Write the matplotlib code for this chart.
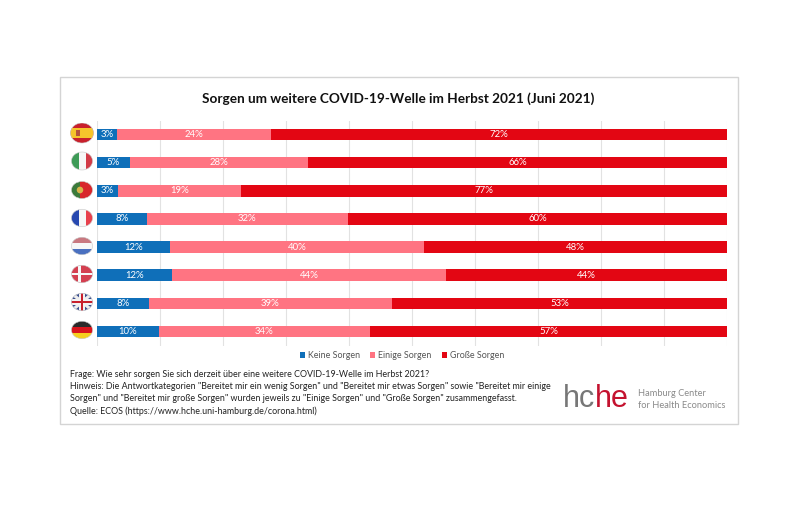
import matplotlib
matplotlib.use("Agg")
import matplotlib.pyplot as plt
from matplotlib.patches import Rectangle, Ellipse, Polygon

plt.rcParams['font.family'] = ['Lato', 'DejaVu Sans']

W, H = 800, 507
countries = ["ES", "IT", "PT", "FR", "NL", "DK", "GB", "DE"]
keine = [3.2, 5.2, 3.3, 7.9, 11.6, 11.9, 8.2, 9.8]
einige = [24.4, 28.3, 19.6, 31.9, 40.3, 43.5, 38.6, 33.5]
grosse = [72.4, 66.5, 77.1, 60.2, 48.1, 44.6, 53.2, 56.7]
keine_lbl = ["3%", "5%", "3%", "8%", "12%", "12%", "8%", "10%"]
einige_lbl = ["24%", "28%", "19%", "32%", "40%", "44%", "39%", "34%"]
grosse_lbl = ["72%", "66%", "77%", "60%", "48%", "44%", "53%", "57%"]
series_names = ["Keine Sorgen", "Einige Sorgen", "Große Sorgen"]
colors = ["#0F6FB9", "#FF7482", "#E30613"]
title = "Sorgen um weitere COVID-19-Welle im Herbst 2021 (Juni 2021)"
notes = [
    "Frage: Wie sehr sorgen Sie sich derzeit über eine weitere COVID-19-Welle im Herbst 2021?",
    "Hinweis: Die Antwortkategorien \"Bereitet mir ein wenig Sorgen\" und \"Bereitet mir etwas Sorgen\" sowie \"Bereitet mir einige",
    "Sorgen\" und \"Bereitet mir große Sorgen\" wurden jeweils zu \"Einige Sorgen\" und \"Große Sorgen\" zusammengefasst.",
    "Quelle: ECOS (https://www.hche.uni-hamburg.de/corona.html)",
]

fig = plt.figure(figsize=(W / 100, H / 100), dpi=100, facecolor="white")

# page overlay in pixel coordinates
bg = fig.add_axes([0, 0, 1, 1], zorder=0)
bg.set_xlim(0, W); bg.set_ylim(H, 0); bg.axis("off")
bg.add_patch(Rectangle((60, 77), 678, 347, fc="white", ec="#D4D4D4", lw=1))
bg.text(398, 99, title, ha="center", va="center", fontsize=9.8, fontweight="bold", color="#111111")
for i, line in enumerate(notes):
    bg.text(70, 374.5 + i * 12.2, line, ha="left", va="center", fontsize=6.43, color="#222222")

# stacked bars
x0, x1, ytop, ybot = 97, 727, 120.5, 345.5
ax = fig.add_axes([x0 / W, 1 - ybot / H, (x1 - x0) / W, (ybot - ytop) / H], zorder=1)
ax.patch.set_alpha(0)
ypos = list(range(len(countries)))
left = [0] * len(countries)
for vals, labels, col, name in zip([keine, einige, grosse],
                                   [keine_lbl, einige_lbl, grosse_lbl], colors, series_names):
    bars = ax.barh(ypos, vals, left=left, height=0.41, color=col, label=name, zorder=3)
    for b, lab in zip(bars, labels):
        ax.text(b.get_x() + b.get_width() / 2, b.get_y() + b.get_height() / 2, lab,
                ha="center", va="center", color="white", fontsize=6.9, zorder=4)
    left = [l + v for l, v in zip(left, vals)]
ax.set_xlim(0, 100)
ax.set_ylim(7.5, -0.5)
ax.set_xticks(range(0, 101, 10))
ax.grid(axis="x", color="#E2E2E2", lw=0.8, zorder=0)
ax.set_yticks([])
ax.tick_params(length=0, labelbottom=False)
for s in ax.spines.values():
    s.set_visible(False)
handles, labs = ax.get_legend_handles_labels()
fig.legend(handles, labs, loc="center", bbox_to_anchor=(402 / W, 1 - 355.5 / H), ncol=3, frameon=False,
           fontsize=6.4, labelcolor="#555555", handlelength=0.6, handleheight=0.6, handletextpad=0.35,
           columnspacing=1.1)

# flags: (centre y, ellipse width, ellipse height) in pixels
flag_geom = [(133, 23, 20), (161, 21, 18), (190, 21, 17), (218, 21, 17.5),
             (246, 21, 17.5), (274, 21, 17.5), (302, 21, 17.5), (330, 21, 17.5)]

def flag_axes(cy, fw, fh):
    a = fig.add_axes([(82 - 12.5) / W, 1 - (cy + 10.5) / H, 25 / W, 21 / H], zorder=2)
    a.set_xlim(0, 1); a.set_ylim(0, 1); a.axis("off")
    clip = Ellipse((0.5, 0.5), fw / 25, fh / 21, transform=a.transData)
    return a, clip

def draw(a, clip, shapes):
    for p in shapes:
        a.add_patch(p)
        p.set_clip_path(clip)
    a.add_patch(Ellipse((0.5, 0.5), clip.get_width(), clip.get_height(), fc="none", ec="#C8C8C8", lw=0.4))

def bands_h(spec):
    return [Rectangle((0, y), 1, h, fc=c, ec="none") for y, h, c in spec]

def bands_v(spec):
    return [Rectangle((x, 0), w, 1, fc=c, ec="none") for x, w, c in spec]

flags = {
    "ES": lambda: bands_h([(0, 1, "#C8202C"), (0.26, 0.48, "#F5C52C")]) + [Rectangle((0.26, 0.38), 0.14, 0.24, fc="#B5533C", ec="none")],
    "IT": lambda: bands_v([(0, 0.36, "#3E9B57"), (0.36, 0.3, "#F7F7F7"), (0.66, 0.34, "#D23B47")]),
    "PT": lambda: bands_v([(0, 0.42, "#3B7A3A"), (0.42, 0.58, "#D8262C")]) + [Ellipse((0.42, 0.5), 0.26, 0.32, fc="#D9B44A", ec="none")],
    "FR": lambda: bands_v([(0, 0.36, "#2748B0"), (0.36, 0.3, "#F7F7F7"), (0.66, 0.34, "#E8404C")]),
    "NL": lambda: bands_h([(0, 0.36, "#4A70C0"), (0.36, 0.3, "#F7F7F7"), (0.66, 0.34, "#C97880")]),
    "DK": lambda: bands_h([(0, 1, "#D43F50")]) + bands_v([(0.34, 0.12, "#F7F7F7")]) + bands_h([(0.44, 0.12, "#F7F7F7")]),
    "GB": lambda: bands_h([(0, 1, "#3A4F8F")]) + [
        Polygon([(0, 0.9), (0.1, 1), (1, 0.1), (0.9, 0)], fc="#EDEDED", ec="none"),
        Polygon([(0, 0.1), (0.1, 0), (1, 0.9), (0.9, 1)], fc="#EDEDED", ec="none"),
    ] + bands_v([(0.38, 0.24, "#F2F2F2")]) + bands_h([(0.38, 0.24, "#F2F2F2")]) + bands_v([(0.45, 0.1, "#C8202C")]) + bands_h([(0.45, 0.1, "#C8202C")]),
    "DE": lambda: bands_h([(0, 0.34, "#F5CF1E"), (0.34, 0.32, "#D8141C"), (0.66, 0.34, "#2A2A2A")]),
}
for c, (cy, fw, fh) in zip(countries, flag_geom):
    a, clip = flag_axes(cy, fw, fh)
    draw(a, clip, flags[c]())

# logo
logo = fig.add_axes([0, 0, 1, 1], zorder=3)
logo.set_xlim(0, W); logo.set_ylim(H, 0); logo.axis("off")
logo.text(563, 399, "hc", ha="left", va="center", fontsize=22, color="#777777", family="Liberation Sans")
logo.text(595, 399, "he", ha="left", va="center", fontsize=22, color="#C4122F", family="Liberation Sans")
logo.text(638, 393, "Hamburg Center", ha="left", va="center", fontsize=6.7, color="#8A8A8A")
logo.text(638, 405, "for Health Economics", ha="left", va="center", fontsize=6.7, color="#8A8A8A")

fig.savefig("out.png", dpi=100, facecolor="white")
